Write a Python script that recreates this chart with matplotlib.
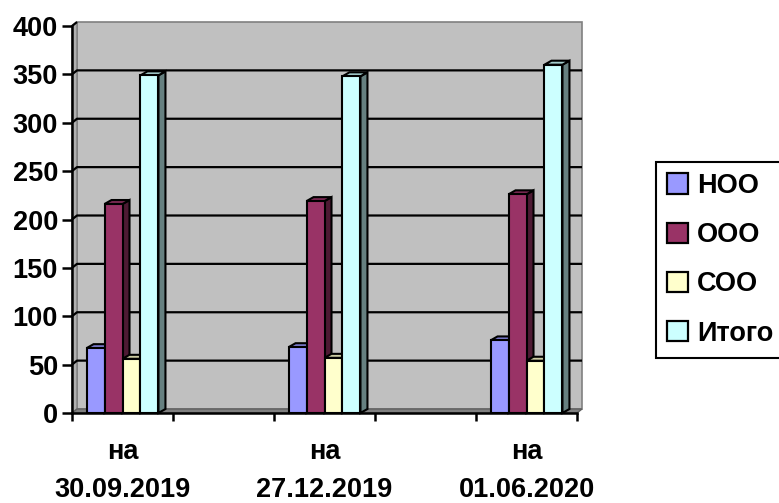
import matplotlib
matplotlib.use("Agg")
import matplotlib.pyplot as plt
from matplotlib.patches import Polygon, Patch
import numpy as np

# chart data
categories = ["на\n30.09.2019", "на\n27.12.2019", "на\n01.06.2020"]
series = ["НОО", "ООО", "СОО", "Итого"]
noo = [67, 68, 75]
ooo = [216, 219, 226]
soo = [56, 57, 54]
itogo = [349, 348, 360]
colors = ["#9999FF", "#993366", "#FFFFCC", "#CCFFFF"]
y_ticks = [0, 50, 100, 150, 200, 250, 300, 350, 400]

values = [noo, ooo, soo, itogo]

plt.rcParams['font.family'] = ['Liberation Sans', 'DejaVu Sans']
plt.rcParams['font.weight'] = 'bold'
FS = 19.5

W, H = 779, 503
fig = plt.figure(figsize=(W / 100, H / 100), dpi=100)
fig.patch.set_facecolor("white")
ax = fig.add_axes([72 / W, (H - 413) / H, 505 / W, (413 - 26) / H])
ax.set_xlim(-0.5, 4.5)
ax.set_ylim(0, 400)
ax.set_facecolor("none")

# pixel -> data conversion for the fake 3d depth
ppx = 505 / 5.0
ppy = 387 / 400.0
wdx, wdy = 5 / ppx, 4 / ppy      # wall depth
bdx, bdy = 7 / ppx, 4 / ppy      # bar depth

x0, x1 = ax.get_xlim()
# back wall
ax.add_patch(Polygon([(x0 + wdx, wdy), (x0 + wdx, 400 + wdy), (x1 + wdx, 400 + wdy), (x1 + wdx, wdy)],
                     closed=True, facecolor="#C0C0C0", edgecolor="#808080", lw=1.2,
                     clip_on=False, zorder=0))
# left wall
ax.add_patch(Polygon([(x0, 0), (x0, 400), (x0 + wdx, 400 + wdy), (x0 + wdx, wdy)],
                     closed=True, facecolor="#B0B0B0", edgecolor="#808080", lw=1.0,
                     clip_on=False, zorder=0.5))
# floor
ax.add_patch(Polygon([(x0, 0), (x1, 0), (x1 + wdx, wdy), (x0 + wdx, wdy)],
                     closed=True, facecolor="#808080", edgecolor="#606060", lw=1.0,
                     clip_on=False, zorder=0.5))
# gridlines on the walls
for v in y_ticks[1:]:
    xs = [x0, x0 + wdx] if v == 400 else [x0, x0 + wdx, x1 + wdx]
    ys = [v, v + wdy] if v == 400 else [v, v + wdy, v + wdy]
    ax.plot(xs, ys, color="black", lw=1.6, clip_on=False, zorder=1,
            solid_capstyle="butt")

# bars
group_x = np.arange(len(categories)) * 2
w = 0.178
for j, (vals, c) in enumerate(zip(values, colors)):
    rgb = np.array(matplotlib.colors.to_rgb(c))
    top_c = rgb * 0.8
    side_c = rgb * 0.5
    for gx, v in zip(group_x, vals):
        left = gx + (j - 2) * w
        right = left + w
        z = 2 + j * 0.1 + gx * 0.01
        ax.add_patch(Polygon([(right, 0), (right, v), (right + bdx, v + bdy), (right + bdx, bdy)],
                             closed=True, facecolor=side_c, edgecolor="black", lw=1.5,
                             zorder=z, clip_on=False))
        ax.add_patch(Polygon([(left, v), (left + bdx, v + bdy), (right + bdx, v + bdy), (right, v)],
                             closed=True, facecolor=top_c, edgecolor="black", lw=1.5,
                             zorder=z, clip_on=False))
        ax.bar(left, v, width=w, align="edge", color=c, edgecolor="black",
               linewidth=1.5, zorder=z + 0.001, clip_on=False)

# axes, ticks
for s in ["top", "right"]:
    ax.spines[s].set_visible(False)
for s in ["left", "bottom"]:
    ax.spines[s].set_linewidth(1.8)
    ax.spines[s].set_zorder(5)
ax.set_yticks(y_ticks)
ax.set_yticklabels([str(t) for t in y_ticks], fontsize=FS, fontweight="bold")
ax.set_xticks(np.arange(-0.5, 4.6, 1.0))
ax.set_xticklabels([""] * 6)
ax.tick_params(axis="y", direction="out", length=7, width=1.8, pad=3)
ax.tick_params(axis="x", which="major", direction="out", length=6, width=1.8)

# category labels, two lines each placed by baseline
for gx, cat in zip(group_x, categories):
    for k, line in enumerate(cat.split("\n")):
        ax.annotate(line, xy=(gx, 0), xycoords=("data", "axes fraction"),
                    xytext=(0, -46 - k * 38), textcoords="offset pixels",
                    ha="center", va="baseline", fontsize=FS, fontweight="bold",
                    annotation_clip=False)

# legend
handles = [Patch(facecolor=c, edgecolor="black", lw=1.6) for c in colors]
leg = fig.legend(handles, series, loc="upper left", bbox_to_anchor=(656 / W, 1 - 162 / H),
                 frameon=True, fancybox=False, framealpha=1, edgecolor="black",
                 prop={"size": FS, "weight": "bold"}, handlelength=0.78, handleheight=0.78,
                 handletextpad=0.33, labelspacing=0.86, borderpad=0.4, borderaxespad=0)
leg.get_frame().set_linewidth(1.5)

fig.savefig("out.png", dpi=100, facecolor="white")
